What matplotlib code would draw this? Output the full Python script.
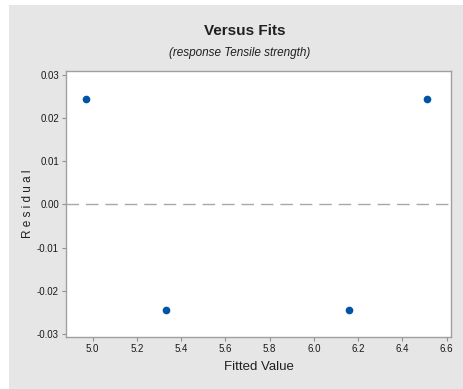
import matplotlib.pyplot as plt
from matplotlib.patches import Rectangle

# residuals vs fitted values
fitted = [4.97, 5.33, 6.16, 6.51]
resid = [0.0245, -0.0245, -0.0245, 0.0245]
xticks = [5.0, 5.2, 5.4, 5.6, 5.8, 6.0, 6.2, 6.4, 6.6]
yticks = [-0.03, -0.02, -0.01, 0.00, 0.01, 0.02, 0.03]

plt.rcParams['font.family'] = ['Liberation Sans', 'DejaVu Sans']

fig = plt.figure(figsize=(4.64, 3.89), dpi=100)
fig.patch.set_facecolor('white')
fig.patches.append(Rectangle((9 / 464, 0), 1, 1 - 5 / 389, transform=fig.transFigure,
                             facecolor='#e6e6e6', edgecolor='none', zorder=-5))

ax = fig.add_axes([66 / 464, 1 - 337 / 389, (451 - 66) / 464, (337 - 71) / 389])
ax.set_facecolor('white')
ax.axhline(0, color='#a8a8a8', lw=1, dashes=(9, 5))
ax.plot(fitted, resid, 'o', color='#0054a6', ms=4.5, zorder=3)

ax.set_xlim(4.88, 6.62)
ax.set_ylim(-0.0307, 0.0309)
ax.set_xticks(xticks)
ax.set_xticklabels(['%.1f' % v for v in xticks])
ax.set_yticks(yticks)
ax.set_yticklabels(['%.2f' % v for v in yticks])
ax.tick_params(labelsize=7, length=3, color='#909090', labelcolor='#1a1a1a', pad=2)
for s in ax.spines.values():
    s.set_color('#a0a0a0')
    s.set_linewidth(1.0)

ax.set_xlabel('Fitted Value', fontsize=9.5, color='#202020', labelpad=5)
ax.set_ylabel('R e s i d u a l', fontsize=8.5, color='#202020')
ax.yaxis.set_label_coords(-32 / 385, 0.5)
fig.text(245 / 464, 1 - 31 / 389, 'Versus Fits', ha='center', va='center',
         fontsize=11, fontweight='bold', color='#202020')
fig.text(240 / 464, 1 - 53 / 389, '(response Tensile strength)', ha='center', va='center',
         fontsize=8.5, style='italic', color='#202020')

fig.savefig('out.png', dpi=100, facecolor=fig.get_facecolor())
